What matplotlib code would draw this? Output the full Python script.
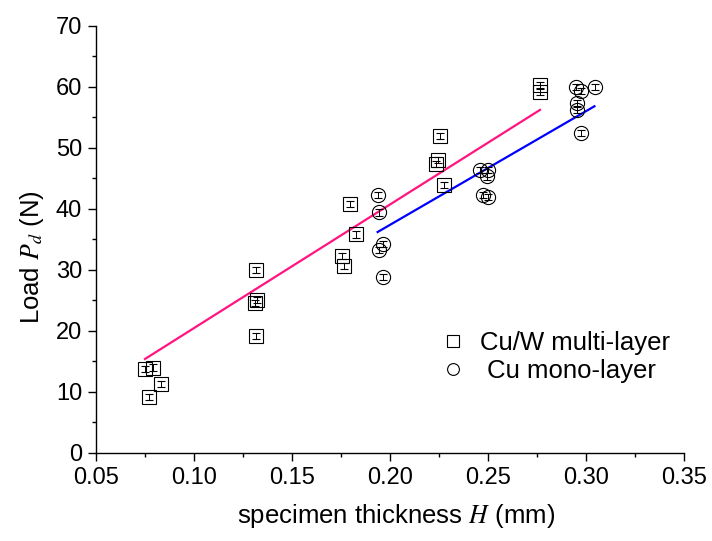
import numpy as np
import matplotlib
matplotlib.use("Agg")
import matplotlib.pyplot as plt
from matplotlib.lines import Line2D

plt.rcParams['font.family'] = ['Liberation Sans', 'DejaVu Sans']
plt.rcParams['mathtext.fontset'] = 'stix'

# Cu/W multi-layer (squares)
cuw_h = [0.075, 0.079, 0.083, 0.077,
         0.1316, 0.1323, 0.131, 0.1316,
         0.1796, 0.1825, 0.1757, 0.1765,
         0.2255, 0.2247, 0.2235, 0.2274,
         0.2765, 0.2765]
cuw_p = [13.7, 14.0, 11.3, 9.2,
         30.0, 25.1, 24.6, 19.2,
         40.8, 35.8, 32.3, 30.7,
         52.0, 48.0, 47.3, 43.9,
         60.3, 59.2]

# Cu mono-layer (circles)
cu_h = [0.1937, 0.1946, 0.1966, 0.1946, 0.1964,
        0.246, 0.250, 0.2495, 0.2476, 0.2498,
        0.295, 0.2974, 0.3046, 0.2956, 0.2956, 0.2973]
cu_p = [42.3, 39.4, 34.3, 33.3, 28.8,
        46.4, 46.4, 45.3, 42.3, 42.0,
        60.0, 59.3, 59.9, 57.3, 56.2, 52.4]

err = 0.5

# linear fits (end points)
fit_cuw_h = [0.075, 0.2765]
fit_cuw_p = [15.4, 56.2]
fit_cu_h = [0.1937, 0.3043]
fit_cu_p = [36.2, 56.8]

fig = plt.figure(figsize=(7.12, 5.41), dpi=100)
ax = fig.add_axes([0.1348, 0.1627, 0.8259, 0.7898])

ax.plot(fit_cuw_h, fit_cuw_p, color='#FF1480', lw=1.6, zorder=2)
ax.plot(fit_cu_h, fit_cu_p, color='#0000FF', lw=1.6, zorder=2)

ax.errorbar(cuw_h, cuw_p, yerr=err, fmt='s', ms=9.8, mfc='none', mec='black',
            mew=0.8, ecolor='black', elinewidth=0.7, capsize=2.6, capthick=0.7, zorder=3)
ax.errorbar(cu_h, cu_p, yerr=err, fmt='o', ms=10.2, mfc='none', mec='black',
            mew=0.8, ecolor='black', elinewidth=0.7, capsize=2.6, capthick=0.7, zorder=3)

ax.set_xlim(0.05, 0.35)
ax.set_ylim(0, 70)
ax.set_xticks(np.arange(0.05, 0.351, 0.05))
ax.set_xticklabels([f"{v:.2f}" for v in np.arange(0.05, 0.351, 0.05)])
ax.set_xticks(np.arange(0.075, 0.35, 0.05), minor=True)
ax.set_yticks(np.arange(0, 71, 10))
ax.set_yticks(np.arange(5, 70, 10), minor=True)

for s in ['top', 'right']:
    ax.spines[s].set_visible(False)
for s in ['left', 'bottom']:
    ax.spines[s].set_linewidth(1.0)

ax.tick_params(which='major', direction='out', length=6, width=1.0,
               labelsize=17, pad=4)
ax.tick_params(which='minor', direction='out', length=3, width=1.0)

ax.set_xlabel("specimen thickness $H$ (mm)", fontsize=18.5)
ax.set_ylabel("Load $P_d$ (N)", fontsize=18.5)
ax.xaxis.set_label_coords(0.51, -0.115)
ax.yaxis.set_label_coords(-0.085, 0.459)

handles = [Line2D([], [], ls='none', marker='s', ms=8.5, mfc='none', mec='black', mew=0.8),
           Line2D([], [], ls='none', marker='o', ms=8.5, mfc='none', mec='black', mew=0.8)]
ax.legend(handles, ['Cu/W multi-layer', ' Cu mono-layer'], frameon=False,
          fontsize=18.5, loc='center left', bbox_to_anchor=(0.564, 0.224),
          borderpad=0, handlelength=1.0, handletextpad=0.55, labelspacing=0.15)

fig.savefig("out.png", dpi=100)
